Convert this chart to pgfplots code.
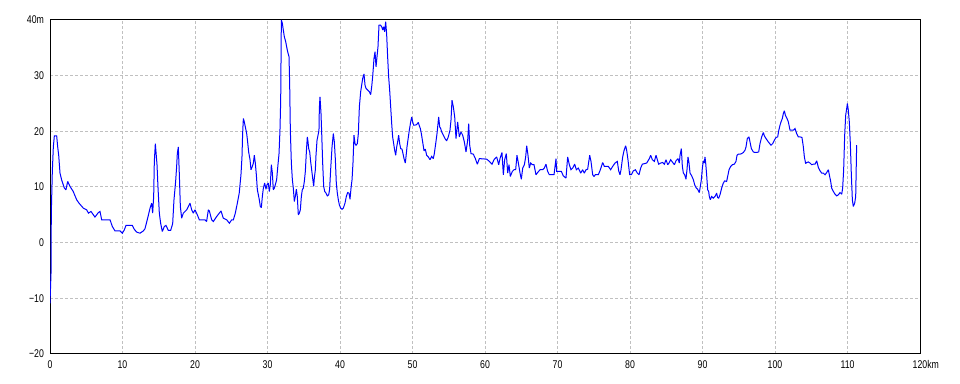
\documentclass[border=0pt]{standalone}
\usepackage{fontspec}
\setmainfont[FakeStretch=0.78]{Liberation Sans}
\usepackage{pgfplots}
\pgfplotsset{compat=1.18}
\definecolor{gridgray}{RGB}{192,192,192}
\begin{document}
\begin{tikzpicture}
\path[use as bounding box] (-37.5pt,-22.5pt) rectangle (682.5pt,265.5pt);
\begin{axis}[
  scale only axis,
  width=652.5pt, height=250.5pt,
  at={(0,0)}, anchor=south west,
  xmin=0, xmax=120, ymin=-20, ymax=40,
  xtick={0,10,...,120},
  xticklabels={0,10,20,30,40,50,60,70,80,90,100,110,120\rlap{km}},
  ytick={-20,-10,...,40},
  yticklabels={−20,−10,0,10,20,30,40m},
  major tick length=0pt,
  grid=major,
  major grid style={gridgray, line width=0.75pt, dash pattern=on 2.25pt off 1.5pt},
  axis line style={black, line width=0.75pt},
  tick label style={font=\fontsize{8.4}{10}\selectfont, black},
  xticklabel style={yshift=-1.5pt},
  yticklabel style={xshift=-1pt},
  axis on top=false,
]
\addplot[blue, line width=0.75pt, line join=miter, miter limit=2] coordinates {
(0,-10.9) (0.14,-5.5) (0.18,5.3) (0.32,12.8) (0.46,17.2) (0.6,19.2) (0.92,19.2) (1.06,17.2) (1.2,15.7) (1.38,12.5) (1.6,11.3) (1.98,9.8) (2.2,9.5) (2.44,11.0) (2.76,10.1) (3.2,9.2) (3.68,7.7) (4.0,7.1) (4.6,6.2) (5.06,5.9) (5.3,5.3) (5.66,5.6) (6.2,4.6) (6.67,5.4) (6.9,5.6) (7.13,4.1) (8.28,4.1) (8.6,2.9) (8.97,2.1) (9.66,2.1) (9.98,1.7) (10.25,2.3) (10.48,3.1) (11.36,3.1) (11.63,2.4) (11.95,1.9) (12.41,1.7) (12.87,2.1) (13.1,2.5) (13.47,4.4) (13.8,6.2) (14.02,7.1) (14.16,5.3) (14.3,8.3) (14.39,14.6) (14.53,17.8) (14.62,16.3) (14.76,14.0) (14.9,9.8) (15.08,5.3) (15.26,3.5) (15.49,2.0) (15.77,2.9) (16.0,3.1) (16.32,2.2) (16.64,2.2) (16.92,3.4) (17.1,7.7) (17.33,11.0) (17.47,13.7) (17.56,16.0) (17.7,17.2) (17.84,12.2) (17.98,6.5) (18.16,4.4) (18.39,5.3) (18.85,5.9) (19.31,7.1) (19.54,5.9) (19.77,5.3) (20.0,5.9) (20.32,5.0) (20.6,4.1) (21.38,4.1) (21.6,3.8) (21.84,5.9) (21.98,5.7) (22.3,4.1) (22.53,3.8) (22.99,4.7) (23.59,5.7) (23.9,4.4) (24.37,4.1) (24.74,3.5) (25.06,4.1) (25.29,4.1) (25.56,5.3) (25.84,7.1) (26.1,8.9) (26.34,12.2) (26.48,15.4) (26.57,19.6) (26.67,22.3) (26.80,21.7) (26.94,20.8) (27.13,19.6) (27.26,18.1) (27.40,16.3) (27.59,14.9) (27.72,13.1) (27.91,13.7) (28.05,14.3) (28.18,15.7) (28.32,14.3) (28.46,12.2) (28.60,9.5) (28.74,8.6) (28.87,7.7) (29.01,6.5) (29.15,6.3) (29.29,8.3) (29.43,9.8) (29.61,10.7) (29.79,9.6) (29.93,10.4) (30.11,10.7) (30.25,9.2) (30.39,10.4) (30.53,14.0) (30.67,12.5) (30.80,9.5) (30.94,9.8) (31.08,10.4) (31.26,11.3) (31.40,13.4) (31.59,16.0) (31.72,20.2) (31.82,25.6) (31.91,40.0) (32.05,39.4) (32.18,38.2) (32.32,37.0) (32.51,36.1) (32.64,35.2) (32.78,34.3) (32.97,33.4) (33.06,28.3) (33.15,20.2) (33.29,14.3) (33.43,11.3) (33.56,9.8) (33.70,7.4) (33.84,8.3) (33.98,9.6) (34.11,8.3) (34.25,5.0) (34.39,5.3) (34.53,5.9) (34.67,8.3) (34.80,9.5) (34.94,9.8) (35.08,11.0) (35.22,12.8) (35.36,16.3) (35.49,19.0) (35.59,18.1) (35.68,16.9) (35.82,16.3) (35.95,14.6) (36.09,13.1) (36.23,11.6) (36.37,10.1) (36.46,11.6) (36.60,13.1) (36.69,15.7) (36.83,18.4) (36.97,19.3) (37.10,20.2) (37.15,24.1) (37.24,26.2) (37.38,23.2) (37.47,19.9) (37.61,14.3) (37.75,10.1) (37.89,9.2) (38.07,8.9) (38.25,8.4) (38.44,8.6) (38.57,9.6) (38.71,13.1) (38.90,17.2) (39.08,19.6) (39.22,18.1) (39.36,14.9) (39.49,10.7) (39.63,8.9) (39.77,7.7) (39.91,6.8) (40.09,6.2) (40.28,6.0) (40.46,6.2) (40.69,7.1) (40.87,8.3) (41.06,9.0) (41.24,8.9) (41.38,7.8) (41.52,9.8) (41.66,11.3) (41.79,14.3) (41.93,19.3) (42.07,17.8) (42.21,17.5) (42.39,17.8) (42.53,19.6) (42.67,24.4) (42.85,27.1) (42.99,28.3) (43.13,29.5) (43.31,30.3) (43.45,28.3) (43.59,27.7) (43.82,27.4) (44.05,27.1) (44.23,26.6) (44.37,28.0) (44.51,29.9) (44.69,33.1) (44.83,34.3) (44.97,31.6) (45.06,32.8) (45.24,35.2) (45.38,39.1) (45.56,39.1) (45.75,38.8) (45.89,38.2) (46.02,38.8) (46.16,37.9) (46.30,39.7) (46.44,37.3) (46.57,33.4) (46.71,29.8) (46.85,27.4) (46.99,24.4) (47.13,21.4) (47.26,19.0) (47.40,17.8) (47.54,16.6) (47.68,15.7) (47.82,17.2) (47.95,18.1) (48.09,19.3) (48.23,17.8) (48.37,16.9) (48.55,16.8) (48.69,16.0) (48.83,15.1) (49.01,14.3) (49.10,15.4) (49.24,17.2) (49.43,19.0) (49.56,20.2) (49.75,21.7) (49.89,22.6) (50.02,21.7) (50.16,21.1) (50.30,21.1) (50.57,21.2) (50.80,21.6) (50.94,21.0) (51.08,20.5) (51.22,19.6) (51.40,18.1) (51.59,16.5) (51.77,16.8) (51.95,15.7) (52.18,15.4) (52.41,14.9) (52.64,15.5) (52.87,15.1) (53.01,16.0) (53.20,17.8) (53.38,19.6) (53.52,21.4) (53.61,22.6) (53.75,20.8) (53.89,20.5) (54.02,19.9) (54.25,19.3) (54.48,18.7) (54.71,18.3) (54.94,19.0) (55.17,20.2) (55.31,22.0) (55.45,25.6)
(55.63,24.4) (55.82,22.6) (56.00,18.7) (56.23,21.7) (56.46,19.0) (56.69,19.9) (56.92,19.3) (57.15,18.1) (57.38,16.3) (57.61,18.4) (57.75,21.4) (57.89,17.5) (58.07,16.0) (58.39,15.9) (58.67,15.1) (58.94,14.1) (59.22,15.1) (60.23,15.0) (60.60,14.6) (60.97,14.1) (61.24,14.9) (61.61,15.4) (61.89,14.0) (62.07,15.1) (62.34,16.2) (62.53,12.2) (62.71,14.9) (62.94,16.0) (63.13,12.5) (63.31,14.0) (63.49,11.9) (63.77,12.8) (64.00,13.1) (64.23,13.1) (64.41,15.7) (64.60,14.3) (64.83,12.5) (65.01,11.4) (65.20,13.4) (65.43,14.0) (65.61,15.4) (65.75,17.4) (65.93,15.7) (66.11,13.4) (66.30,14.3) (66.53,14.0) (66.76,14.0) (67.03,12.2) (67.26,12.6) (67.59,13.1) (67.95,13.1) (68.18,13.4) (68.41,14.1) (68.64,12.8) (68.87,12.2) (69.52,12.2) (69.66,13.7) (69.79,15.1) (69.89,12.8) (70.25,12.8) (70.53,12.8) (70.80,12.0) (71.17,11.6) (71.40,15.4) (71.63,14.0) (71.86,13.1) (72.09,13.4) (72.37,14.1) (72.60,13.1) (72.87,13.4) (73.20,12.5) (73.47,13.1) (73.70,12.5) (73.93,13.1) (74.16,13.2) (74.44,15.7) (74.62,14.6) (74.85,12.2) (75.03,11.9) (75.22,12.2) (75.63,12.2) (75.91,13.1) (76.23,14.4) (76.46,13.7) (76.74,13.7) (77.01,13.7) (77.33,13.1) (77.61,13.7) (77.93,14.3) (78.25,14.6) (78.44,12.9) (78.62,12.2) (78.76,13.1) (78.99,15.4) (79.17,16.5) (79.40,17.4) (79.54,16.6) (79.72,14.9) (79.95,12.2) (80.18,12.2) (80.46,12.9) (80.74,13.1) (81.01,12.5) (81.24,12.2) (81.47,13.4) (81.70,14.1) (82.30,14.3) (82.67,15.1) (82.85,15.7) (83.08,14.9) (83.36,14.6) (83.59,15.7) (83.77,14.9) (83.95,14.1) (84.23,14.3) (84.51,14.4) (84.74,14.1) (84.97,14.9) (85.20,14.0) (85.38,14.3) (85.61,14.9) (85.89,14.4) (86.12,14.0) (86.34,14.7) (86.62,15.1) (86.80,14.3)
(86.90,15.7) (87.08,16.9) (87.22,13.7) (87.36,12.5) (87.54,12.2) (87.72,11.4) (87.86,13.1) (88.00,15.4) (88.14,14.3) (88.28,12.5) (88.51,12.0) (88.74,11.3) (88.92,10.4) (89.10,9.9) (89.33,9.6) (89.56,9.0) (89.70,10.1) (89.84,11.3) (89.98,13.4) (90.11,14.7) (90.25,14.3) (90.34,15.4) (90.44,14.3) (90.57,12.2) (90.71,9.5) (90.85,9.2) (90.94,8.3) (91.08,7.7) (91.26,8.3) (91.49,8.0) (91.72,8.3) (91.95,8.9) (92.09,8.1) (92.23,8.0) (92.41,8.6) (92.64,9.8) (92.87,10.7) (93.06,11.1) (93.33,11.0) (93.47,11.9) (93.66,13.1) (93.89,13.7) (94.11,14.0) (94.39,14.1) (94.62,14.6) (94.76,15.7) (94.94,15.9) (95.17,15.9) (95.40,16.0) (95.63,16.2) (95.86,16.6) (96.00,17.2) (96.18,18.7) (96.41,19.0) (96.55,18.1) (96.74,16.9) (97.01,16.3) (97.24,16.2) (97.47,16.2) (97.75,16.3) (97.93,17.8) (98.16,19.0) (98.39,19.8) (98.53,19.2) (98.76,18.7) (99.08,18.1) (99.45,17.5) (99.68,17.8) (99.91,18.4) (100.14,18.9) (100.37,19.0) (100.51,20.1) (100.69,21.1) (100.83,21.7) (101.01,22.3) (101.15,23.2) (101.29,23.7) (101.43,22.9) (101.66,22.3) (101.84,21.7) (102.07,20.2) (102.30,20.2) (102.53,20.2) (102.76,20.5) (102.99,19.6) (103.22,19.0) (103.45,19.0) (103.72,18.9) (103.91,17.2) (104.05,15.4) (104.23,14.2) (104.37,14.4) (104.60,14.5) (104.83,14.3) (105.06,14.0) (105.29,14.1) (105.52,14.1) (105.75,14.7) (105.98,13.5) (106.21,12.9) (106.44,12.5) (106.67,12.5) (106.90,12.2) (107.13,12.6) (107.36,13.1) (107.49,12.2) (107.68,11.0) (107.82,9.8) (108.05,9.2) (108.28,8.7) (108.51,8.4) (108.74,8.6) (108.97,9.0) (109.20,8.7) (109.33,9.8) (109.47,13.1) (109.61,19.3) (109.75,22.9) (109.89,24.1) (109.98,25.0) (110.11,23.8) (110.25,21.7) (110.39,17.8) (110.53,12.2) (110.67,7.7) (110.80,6.5) (110.99,7.1) (111.13,8.3) (111.26,17.5)
};
\end{axis}
\end{tikzpicture}
\end{document}
